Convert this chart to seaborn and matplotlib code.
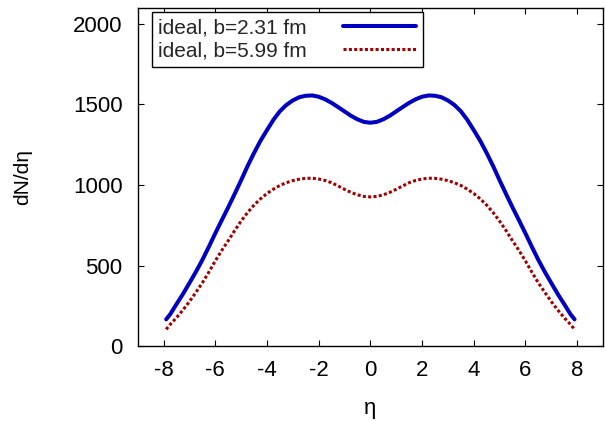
import matplotlib
matplotlib.use("Agg")
import matplotlib.pyplot as plt
import seaborn as sns
import numpy as np
import pandas as pd

# --- data ---
eta_half = [-7.9, -7.75, -7.5, -7.25, -7.0, -6.75, -6.5, -6.25, -6.0, -5.75,
            -5.5, -5.25, -5.0, -4.75, -4.5, -4.25, -4.0, -3.75, -3.5, -3.25,
            -3.0, -2.75, -2.5, -2.25, -2.0, -1.75, -1.5, -1.25, -1.0, -0.75,
            -0.5, -0.25, 0.0]
b231_half = [168, 198, 262, 325, 393, 462, 536, 617, 701, 782,
             862, 945, 1030, 1118, 1199, 1275, 1341, 1405, 1458, 1497,
             1525, 1545, 1554, 1556, 1548, 1532, 1510, 1484, 1457, 1430,
             1408, 1392, 1387]
b599_half = [106, 135, 178, 226, 278, 335, 394, 460, 530, 595,
             655, 718, 777, 830, 876, 915, 948, 975, 998, 1015,
             1028, 1037, 1042, 1043, 1038, 1029, 1015, 995, 974, 955,
             940, 930, 927]

eta = eta_half + [-e for e in eta_half[-2::-1]]
b231 = b231_half + b231_half[-2::-1]
b599 = b599_half + b599_half[-2::-1]

labels = ["ideal, b=2.31 fm", "ideal, b=5.99 fm"]
xticks = [-8, -6, -4, -2, 0, 2, 4, 6, 8]
yticks = [0, 500, 1000, 1500, 2000]

sns.set_theme(style="ticks")
plt.rcParams['font.family'] = ['Liberation Sans', 'DejaVu Sans']

fig = plt.figure(figsize=(6.05, 4.22), dpi=100)
ax = fig.add_axes([0.2276, 0.179, 0.9967 - 0.2276, 0.9818 - 0.179])

sns.lineplot(x=eta, y=b231, ax=ax, color="#0000c0", linewidth=2.9,
             label=labels[0], sort=False)
sns.lineplot(x=eta, y=b599, ax=ax, color="#a00000", linewidth=2.2,
             label=labels[1], sort=False, linestyle=(0, (1.0, 0.75)))

ax.set_xlim(-9, 9)
ax.set_ylim(0, 2100)
ax.set_xticks(xticks)
ax.set_yticks(yticks)
ax.set_xticklabels([str(t) for t in xticks])
ax.set_yticklabels([str(t) for t in yticks])
ax.tick_params(direction="in", length=4, width=0.8, color="black",
               labelsize=16, top=True, right=True, labelcolor="black")
ax.tick_params(axis="x", pad=10)
ax.tick_params(axis="y", pad=11)
for s in ax.spines.values():
    s.set_visible(True)
    s.set_color("black")
    s.set_linewidth(1.0)

ax.set_xlabel("η", fontsize=16, color="black", labelpad=12)
ax.set_ylabel("dN/dη", fontsize=15, color="black", labelpad=29)

leg = ax.legend(loc="upper left", bbox_to_anchor=(0.0307, 0.987),
                borderaxespad=0, markerfirst=False, fontsize=15,
                frameon=True, fancybox=False, framealpha=1,
                edgecolor="black", handlelength=3.5, handletextpad=1.75,
                borderpad=0.3, labelspacing=0.2)
leg.get_frame().set_linewidth(1.0)

fig.savefig("out.png", dpi=100)
